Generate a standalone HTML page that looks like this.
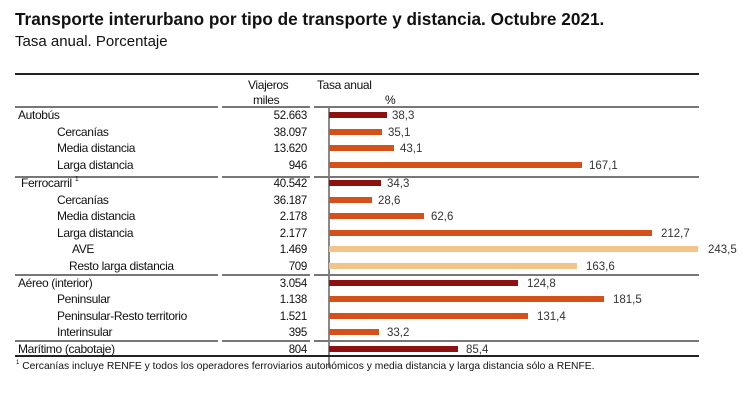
<!DOCTYPE html>
<html><head><meta charset="utf-8"><style>
body{margin:0;width:750px;height:402px;background:#fff;position:relative;overflow:hidden;font-family:"Liberation Sans",Arial,sans-serif;color:#111}
div{position:absolute;white-space:nowrap}
.t{left:15px;top:9px;font-size:17.2px;font-weight:bold}
.s{left:15px;top:33px;font-size:15px}
.l{font-size:12px;letter-spacing:-0.35px;line-height:14px}
.v{right:443px;font-size:11.5px;letter-spacing:-0.3px;line-height:14px;text-align:right;margin-top:1px}
.b{height:6px;left:329px}
.p{font-size:11.5px;color:#333;line-height:14px;margin-top:1px}
.sep{height:2px;background:#777}
sup{font-size:7px;line-height:0;position:relative;top:-1px;vertical-align:super}
</style></head><body>
<div class="t">Transporte interurbano por tipo de transporte y distancia. Octubre 2021.</div>
<div class="s">Tasa anual. Porcentaje</div>
<div style="left:15px;top:73px;width:684px;height:2px;background:#222"></div>
<div class="l" style="left:248px;top:78px">Viajeros</div>
<div class="l" style="left:253px;top:93px">miles</div>
<div class="l" style="left:317px;top:78px">Tasa anual</div>
<div class="l" style="left:385px;top:93px">%</div>
<div class="sep" style="left:15px;top:106px;width:203px"></div>
<div class="sep" style="left:222px;top:106px;width:88px"></div>
<div class="sep" style="left:314px;top:106px;width:385px"></div>
<div style="left:328px;top:108px;width:2px;height:260px;background:#888"></div>

<div class="sep" style="left:15px;top:176px;width:203px"></div>
<div class="sep" style="left:222px;top:176px;width:88px"></div>
<div class="sep" style="left:314px;top:176px;width:385px"></div>
<div class="sep" style="left:15px;top:274px;width:203px"></div>
<div class="sep" style="left:222px;top:274px;width:88px"></div>
<div class="sep" style="left:314px;top:274px;width:385px"></div>
<div class="sep" style="left:15px;top:340px;width:203px"></div>
<div class="sep" style="left:222px;top:340px;width:88px"></div>
<div class="sep" style="left:314px;top:340px;width:385px"></div>
<div style="left:15px;top:355px;width:684px;height:2px;background:#222"></div>

<div class="l" style="left:18px;top:108px">Autobús</div><div class="v" style="top:108px">52.663</div><div class="b" style="top:112px;width:58px;background:#8e1111"></div><div class="p" style="left:392px;top:108px">38,3</div>
<div class="l" style="left:57px;top:125px">Cercanías</div><div class="v" style="top:125px">38.097</div><div class="b" style="top:129px;width:53px;background:#d4521a"></div><div class="p" style="left:388px;top:125px">35,1</div>
<div class="l" style="left:57px;top:141px">Media distancia</div><div class="v" style="top:141px">13.620</div><div class="b" style="top:145px;width:65px;background:#d4521a"></div><div class="p" style="left:400px;top:141px">43,1</div>
<div class="l" style="left:57px;top:158px">Larga distancia</div><div class="v" style="top:158px">946</div><div class="b" style="top:162px;width:253px;background:#d4521a"></div><div class="p" style="left:589px;top:158px">167,1</div>

<div class="l" style="left:21px;top:176px">Ferrocarril <sup>1</sup></div><div class="v" style="top:176px">40.542</div><div class="b" style="top:180px;width:52px;background:#8e1111"></div><div class="p" style="left:387px;top:176px">34,3</div>
<div class="l" style="left:57px;top:193px">Cercanías</div><div class="v" style="top:193px">36.187</div><div class="b" style="top:197px;width:43px;background:#d4521a"></div><div class="p" style="left:378px;top:193px">28,6</div>
<div class="l" style="left:57px;top:209px">Media distancia</div><div class="v" style="top:209px">2.178</div><div class="b" style="top:213px;width:95px;background:#d4521a"></div><div class="p" style="left:431px;top:209px">62,6</div>
<div class="l" style="left:57px;top:226px">Larga distancia</div><div class="v" style="top:226px">2.177</div><div class="b" style="top:230px;width:323px;background:#d4521a"></div><div class="p" style="left:661px;top:226px">212,7</div>
<div class="l" style="left:72px;top:242px">AVE</div><div class="v" style="top:242px">1.469</div><div class="b" style="top:246px;width:369px;background:#f2c48a"></div><div class="p" style="left:708px;top:242px">243,5</div>
<div class="l" style="left:69px;top:259px">Resto larga distancia</div><div class="v" style="top:259px">709</div><div class="b" style="top:263px;width:248px;background:#f2c48a"></div><div class="p" style="left:586px;top:259px">163,6</div>

<div class="l" style="left:18px;top:276px">Aéreo (interior)</div><div class="v" style="top:276px">3.054</div><div class="b" style="top:280px;width:189px;background:#8e1111"></div><div class="p" style="left:527px;top:276px">124,8</div>
<div class="l" style="left:57px;top:292px">Peninsular</div><div class="v" style="top:292px">1.138</div><div class="b" style="top:296px;width:275px;background:#d4521a"></div><div class="p" style="left:613px;top:292px">181,5</div>
<div class="l" style="left:57px;top:309px">Peninsular-Resto territorio</div><div class="v" style="top:309px">1.521</div><div class="b" style="top:313px;width:199px;background:#d4521a"></div><div class="p" style="left:537px;top:309px">131,4</div>
<div class="l" style="left:57px;top:325px">Interinsular</div><div class="v" style="top:325px">395</div><div class="b" style="top:329px;width:50px;background:#d4521a"></div><div class="p" style="left:387px;top:325px">33,2</div>

<div class="l" style="left:18px;top:342px">Marítimo (cabotaje)</div><div class="v" style="top:342px">804</div><div class="b" style="top:346px;width:129px;background:#8e1111"></div><div class="p" style="left:466px;top:342px">85,4</div>

<div style="left:16px;top:361px;font-size:10.3px;line-height:12px"><sup style="font-size:6px">1</sup> Cercanías incluye RENFE y todos los operadores ferroviarios autonómicos y media distancia y larga distancia sólo a RENFE.</div>
</body></html>
